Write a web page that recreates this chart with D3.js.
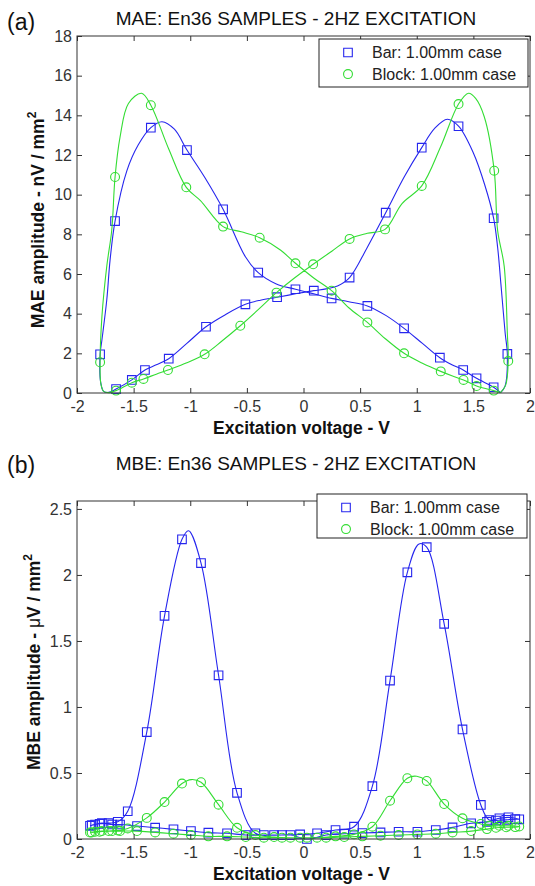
<!DOCTYPE html>
<html>
<head>
<meta charset="utf-8">
<script src="https://cdn.jsdelivr.net/npm/d3@7"></script>
<style>
  html, body { margin: 0; padding: 0; background: #fff; }
  svg { display: block; }
  text { font-family: "Liberation Sans", Arial, Helvetica, sans-serif; }
</style>
</head>
<body>
<div id="chart"></div>
<script>
// ---------------- DATA ----------------
const xTicks = [-2, -1.5, -1, -0.5, 0, 0.5, 1, 1.5, 2];
const xTickLabels = ["-2", "-1.5", "-1", "-0.5", "0", "0.5", "1", "1.5", "2"];
const maeYTicks = [0, 2, 4, 6, 8, 10, 12, 14, 16, 18];
const maeYTickLabels = ["0", "2", "4", "6", "8", "10", "12", "14", "16", "18"];
const mbeYTicks = [0, 0.5, 1, 1.5, 2, 2.5];
const mbeYTickLabels = ["0", "0.5", "1", "1.5", "2", "2.5"];
const seriesNames = ["Bar: 1.00mm case", "Block: 1.00mm case"];

// (a) MAE, Bar – traced curve (voltage, amplitude nV/mm^2)
const maeBarLine = [
 [1.74,0.02],[1.78,0.35],[1.80,1.97],[1.781,3.0],[1.743,5.5],[1.715,7.3],[1.679,8.81],[1.60,10.5],[1.50,12.1],[1.369,13.45],[1.27,13.8],[1.16,13.35],[1.044,12.37],[0.89,10.9],[0.726,9.09],[0.564,7.35],[0.407,5.82],[0.30,5.4],[0.20,5.25],[0.091,5.16],[-0.07,5.0],[-0.233,4.83],[-0.38,4.68],[-0.513,4.47],[-0.69,3.95],[-0.861,3.34],[-1.03,2.5],[-1.19,1.73],[-1.30,1.42],[-1.40,1.16],[-1.516,0.66],[-1.655,0.2],[-1.72,0.03],
 [-1.765,0.08],[-1.79,0.5],[-1.796,1.95],[-1.78,2.67],[-1.737,4.7],[-1.708,6.7],[-1.664,8.67],[-1.56,11.2],[-1.46,12.5],[-1.348,13.38],[-1.25,13.68],[-1.14,13.3],[-1.029,12.25],[-0.87,10.85],[-0.71,9.26],[-0.513,6.87],[-0.40,6.07],[-0.24,5.5],[-0.071,5.23],[0.09,5.0],[0.248,4.77],[0.40,4.6],[0.564,4.39],[0.73,3.9],[0.888,3.26],[1.05,2.5],[1.204,1.78],[1.31,1.43],[1.41,1.16],[1.528,0.74],[1.679,0.29],[1.74,0.02]
];
const maeBarMarks = [
 [-1.796,1.95],[-1.664,8.67],[-1.348,13.38],[-1.029,12.25],[-0.71,9.26],[-0.40,6.07],[-0.071,5.23],[0.248,4.77],[0.564,4.39],[0.888,3.26],[1.204,1.78],[1.41,1.16],[1.528,0.74],[1.679,0.29],
 [1.80,1.97],[1.679,8.81],[1.369,13.45],[1.044,12.37],[0.726,9.09],[0.407,5.82],[0.091,5.16],[-0.233,4.83],[-0.513,4.47],[-0.861,3.34],[-1.19,1.73],[-1.40,1.16],[-1.516,0.66],[-1.655,0.2]
];
// (a) MAE, Block
const maeBlockLine = [
 [1.74,0.02],[1.785,0.4],[1.808,1.61],[1.80,3.0],[1.772,6.4],[1.714,8.2],[1.684,11.21],[1.596,13.93],[1.52,14.85],[1.457,15.11],[1.369,14.57],[1.21,12.4],[1.044,10.44],[0.87,9.55],[0.72,8.25],[0.564,8.05],[0.407,7.77],[0.25,7.15],[0.085,6.49],[-0.08,5.8],[-0.239,5.06],[-0.40,4.2],[-0.558,3.39],[-0.72,2.62],[-0.873,1.95],[-1.03,1.52],[-1.197,1.16],[-1.30,0.95],[-1.413,0.71],[-1.516,0.52],[-1.655,0.12],[-1.72,0.02],
 [-1.765,0.08],[-1.79,0.5],[-1.796,1.55],[-1.78,3.85],[-1.737,6.4],[-1.693,8.22],[-1.664,10.89],[-1.62,12.9],[-1.546,14.6],[-1.43,15.11],[-1.348,14.51],[-1.19,12.3],[-1.035,10.37],[-0.91,9.7],[-0.71,8.39],[-0.55,8.13],[-0.387,7.83],[-0.204,7.21],[-0.071,6.54],[0.09,5.8],[0.248,5.16],[0.40,4.3],[0.564,3.56],[0.72,2.75],[0.888,2.0],[1.05,1.5],[1.212,1.09],[1.31,0.87],[1.413,0.66],[1.528,0.35],[1.68,0.12],[1.74,0.02]
];
const maeBlockMarks = [
 [-1.796,1.55],[-1.664,10.89],[-1.348,14.51],[-1.035,10.37],[-0.71,8.39],[-0.387,7.83],[-0.071,6.54],[0.248,5.16],[0.564,3.56],[0.888,2.0],[1.212,1.09],[1.413,0.66],[1.528,0.35],[1.68,0.12],
 [1.808,1.61],[1.684,11.21],[1.369,14.57],[1.044,10.44],[0.72,8.25],[0.407,7.77],[0.085,6.49],[-0.239,5.06],[-0.558,3.39],[-0.873,1.95],[-1.197,1.16],[-1.413,0.71],[-1.516,0.52],[-1.655,0.12]
];

// (b) MBE, Bar (uV/mm^2): rising sweep then falling sweep
const mbeBarMarks = [
 [-1.885,0.10],[-1.84,0.11],[-1.78,0.12],[-1.69,0.11],[-1.62,0.11],[-1.47,0.098],[-1.31,0.086],[-1.148,0.073],[-0.994,0.06],[-0.84,0.048],[-0.675,0.043],[-0.51,0.03],[-0.35,0.03],[-0.19,0.03],[-0.03,0.035],[0.12,0.043],[0.283,0.068],[0.446,0.093],[0.608,0.40],[0.764,1.20],[0.917,2.02],[1.088,2.21],[1.242,1.63],[1.404,0.83],[1.566,0.258],[1.64,0.144],[1.73,0.157],[1.81,0.164],[1.905,0.149],
 [1.87,0.15],[1.79,0.145],[1.70,0.14],[1.62,0.13],[1.48,0.119],[1.316,0.088],[1.168,0.068],[1.006,0.055],[0.84,0.055],[0.68,0.05],[0.52,0.045],[0.36,0.04],[0.2,0.03],[0.03,0.0],[-0.115,0.03],[-0.26,0.03],[-0.425,0.043],[-0.587,0.35],[-0.75,1.24],[-0.905,2.09],[-1.073,2.27],[-1.227,1.69],[-1.384,0.81],[-1.552,0.21],[-1.64,0.13],[-1.72,0.12],[-1.80,0.115],[-1.87,0.105]
];
const mbeBarPeaks = [[1.02,2.235],[-1.015,2.335]];
// (b) MBE, Block
const mbeBlockMarks = [
 [-1.885,0.05],[-1.84,0.055],[-1.78,0.06],[-1.69,0.06],[-1.62,0.06],[-1.47,0.06],[-1.31,0.05],[-1.148,0.04],[-0.994,0.03],[-0.84,0.02],[-0.675,0.02],[-0.51,0.015],[-0.35,0.01],[-0.19,0.01],[-0.03,0.01],[0.12,0.01],[0.283,0.02],[0.446,0.035],[0.608,0.093],[0.764,0.29],[0.917,0.46],[1.088,0.44],[1.242,0.265],[1.404,0.157],[1.566,0.114],[1.64,0.1],[1.73,0.1],[1.81,0.1],[1.905,0.095],
 [1.87,0.09],[1.79,0.089],[1.70,0.085],[1.62,0.075],[1.48,0.06],[1.316,0.05],[1.168,0.04],[1.006,0.035],[0.84,0.03],[0.68,0.025],[0.52,0.02],[0.36,0.015],[0.2,0.01],[0.03,0.01],[-0.115,0.01],[-0.26,0.015],[-0.425,0.03],[-0.587,0.085],[-0.75,0.26],[-0.905,0.43],[-1.073,0.42],[-1.227,0.28],[-1.384,0.16],[-1.552,0.08],[-1.64,0.065],[-1.72,0.06],[-1.80,0.055],[-1.87,0.05]
];
const mbeBlockPeaks = [[1.0,0.475],[-0.99,0.45]];

// ---------------- DRAW ----------------
const W = 535, H = 886;
const BLUE = "#2626ee", GREEN = "#33dd33", AXIS = "#333";
const svg = d3.select("#chart").append("svg").attr("width", W).attr("height", H)
  .attr("viewBox", `0 0 ${W} ${H}`);
svg.append("rect").attr("width", W).attr("height", H).attr("fill", "#fff");

// insert each peak knot between the two neighbouring high markers that bracket it
function withPeaks(marks, peaks) {
  const out = [];
  for (let i = 0; i < marks.length; i++) {
    out.push(marks[i]);
    if (i + 1 < marks.length) {
      const a = marks[i], b = marks[i + 1];
      peaks.forEach(p => {
        if ((p[0] - a[0]) * (p[0] - b[0]) < 0 && a[1] > 0.5 * p[1] && b[1] > 0.5 * p[1]) out.push(p);
      });
    }
  }
  return out;
}

function panel(o) {
  const x = d3.scaleLinear().domain([-2, 2]).range([o.x0, o.x1]);
  const y = d3.scaleLinear().domain(o.yDomain).range([o.y1, o.y0]);
  const g = svg.append("g");

  // series
  const line = d3.line().x(d => x(d[0])).y(d => y(d[1])).curve(d3.curveCatmullRom.alpha(0.5));
  o.series.forEach(s => {
    g.append("path").attr("d", line(s.line)).attr("fill", "none")
      .attr("stroke", s.color).attr("stroke-width", 1.1);
    const sym = s.shape === "square" ? d3.symbolSquare : d3.symbolCircle;
    const size = s.shape === "square" ? 74 : 62;
    g.selectAll(null).data(s.marks).enter().append("path")
      .attr("d", d3.symbol().type(sym).size(size))
      .attr("transform", d => `translate(${x(d[0])},${y(d[1])})`)
      .attr("fill", "none").attr("stroke", s.color).attr("stroke-width", 1.1);
  });

  // axes (inward ticks, MATLAB style)
  const fmtX = (d, i) => xTickLabels[i];
  const fmtY = (d, i) => o.yTickLabels[i];
  const ax = [
    g.append("g").attr("transform", `translate(0,${o.y1})`)
      .call(d3.axisBottom(x).tickValues(xTicks).tickFormat(fmtX).tickSizeInner(-5).tickSizeOuter(0).tickPadding(8)),
    g.append("g").attr("transform", `translate(0,${o.y0})`)
      .call(d3.axisTop(x).tickValues(xTicks).tickFormat("").tickSizeInner(-5).tickSizeOuter(0)),
    g.append("g").attr("transform", `translate(${o.x0},0)`)
      .call(d3.axisLeft(y).tickValues(o.yTicks).tickFormat(fmtY).tickSizeInner(-5).tickSizeOuter(0).tickPadding(5)),
    g.append("g").attr("transform", `translate(${o.x1},0)`)
      .call(d3.axisRight(y).tickValues(o.yTicks).tickFormat("").tickSizeInner(-5).tickSizeOuter(0))
  ];
  ax.forEach(a => {
    a.select(".domain").remove();
    a.selectAll("line").attr("stroke", AXIS);
    a.selectAll("text").attr("font-size", 16).attr("fill", "#333")
      .attr("font-family", '"Liberation Sans", Arial, sans-serif');
  });
  g.append("rect").attr("x", o.x0).attr("y", o.y0).attr("width", o.x1 - o.x0).attr("height", o.y1 - o.y0)
    .attr("fill", "none").attr("stroke", AXIS).attr("stroke-width", 1);

  // legend
  const L = o.legend;
  g.append("rect").attr("x", L.x).attr("y", L.y).attr("width", L.w).attr("height", L.h)
    .attr("fill", "#fff").attr("stroke", "#222").attr("stroke-width", 1);
  o.series.forEach((s, i) => {
    const cy = L.y + 13.5 + i * 21.6;
    const sym = s.shape === "square" ? d3.symbolSquare : d3.symbolCircle;
    g.append("path").attr("d", d3.symbol().type(sym).size(s.shape === "square" ? 74 : 62))
      .attr("transform", `translate(${L.x + 29},${cy})`)
      .attr("fill", "none").attr("stroke", s.color).attr("stroke-width", 1.1);
    g.append("text").attr("x", L.x + 53).attr("y", cy + 5.6).attr("font-size", 16)
      .attr("fill", "#222").text(seriesNames[i]);
  });

  // title + tag
  g.append("text").attr("x", o.tx).attr("y", o.ty).attr("text-anchor", "middle")
    .attr("font-size", 19).attr("fill", "#111").text(o.title);
  g.append("text").attr("x", 7).attr("y", o.tagY).attr("font-size", 23).attr("fill", "#111").text(o.tag);

  // x label
  g.append("text").attr("x", (o.x0 + o.x1) / 2 - 2).attr("y", o.y1 + 41).attr("text-anchor", "middle")
    .attr("font-size", 17.5).attr("font-weight", "bold").attr("fill", "#111").text("Excitation voltage - V");

  // y label
  const yl = g.append("text").attr("transform", `translate(${o.ylx},${o.yly}) rotate(-90)`)
    .attr("text-anchor", "middle").attr("font-size", 17.5).attr("font-weight", "bold").attr("fill", "#111");
  o.ylabel.forEach(p => {
    const t = yl.append("tspan").text(p.t);
    if (p.w) t.attr("font-weight", p.w);
    if (p.sup) t.attr("font-size", 12).attr("dy", -8);
  });
}

panel({
  x0: 77, x1: 530, y0: 36, y1: 393, yDomain: [0, 18],
  yTicks: maeYTicks, yTickLabels: maeYTickLabels,
  title: "MAE: En36 SAMPLES - 2HZ EXCITATION", tx: 296, ty: 25, tag: "(a)", tagY: 30,
  ylabel: [{t: "MAE amplitude - nV / mm"}, {t: "2", sup: true}], ylx: 44, yly: 220,
  legend: {x: 319, y: 39, w: 209, h: 48},
  series: [
    {line: maeBarLine, marks: maeBarMarks, color: BLUE, shape: "square"},
    {line: maeBlockLine, marks: maeBlockMarks, color: GREEN, shape: "circle"}
  ]
});

panel({
  x0: 77, x1: 530, y0: 501, y1: 839, yDomain: [0, 2.56],
  yTicks: mbeYTicks, yTickLabels: mbeYTickLabels,
  title: "MBE: En36 SAMPLES - 2HZ EXCITATION", tx: 296, ty: 470, tag: "(b)", tagY: 473,
  ylabel: [{t: "MBE amplitude - "}, {t: "μ", w: "normal"}, {t: "V / mm"}, {t: "2", sup: true}], ylx: 40, yly: 662,
  legend: {x: 317, y: 494, w: 210, h: 44},
  series: [
    {line: withPeaks(mbeBarMarks, mbeBarPeaks), marks: mbeBarMarks, color: BLUE, shape: "square"},
    {line: withPeaks(mbeBlockMarks, mbeBlockPeaks), marks: mbeBlockMarks, color: GREEN, shape: "circle"}
  ]
});
</script>
</body>
</html>
